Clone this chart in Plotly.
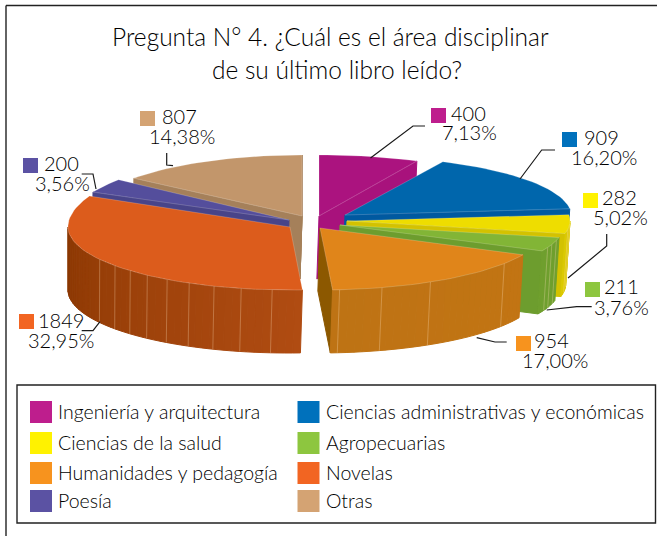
import math
import plotly.graph_objects as go

# ---- data -------------------------------------------------------------
categories = ["Ingeniería y arquitectura", "Ciencias administrativas y económicas",
              "Ciencias de la salud", "Agropecuarias", "Humanidades y pedagogía",
              "Novelas", "Poesía", "Otras"]
counts = [400, 909, 282, 211, 954, 1849, 200, 807]
percent_labels = ["7,13%", "16,20%", "5,02%", "3,76%", "17,00%", "32,95%", "3,56%", "14,38%"]
title_lines = ["Pregunta N° 4. ¿Cuál es el área disciplinar", "de su último libro leído?"]

# ---- style ------------------------------------------------------------
FONT = "Lato"
INK = "#000000"
top_colors = ["#AB137F", "#0066AC", "#EEDD00", "#82B536", "#E0851A", "#DC5C1C", "#544E9C", "#C2966B"]
cut_colors = ["#A8127C", "#0059A0", "#D3C200", "#6D9D2E", "#8C5800", "#8F3A03", "#484489", "#A5805A"]
wall_start = ["#A8127C", "#0059A0", "#DCCA00", "#6F9F2E", "#C27413", "#B04C12", "#484489", "#A5805A"]
wall_end = ["#A8127C", "#0059A0", "#DCCA00", "#6F9F2E", "#BE7314", "#8A3702", "#484489", "#A5805A"]
key_colors = ["#BE1E8D", "#0071BC", "#FFF200", "#8DC63F", "#F7931E", "#F26522", "#5B52A3", "#D4A373"]

# per-slice placement: apex x, apex y, radius, front half-height, back half-height
placement = [(319, 216, 226, 61, 61), (345, 215, 226, 60, 59), (347, 221, 223, 60, 60),
             (340, 225, 224, 60, 60), (320, 228, 225, 62, 62), (290, 227, 222, 63, 72),
             (289, 220, 217, 65, 65), (302, 216, 214, 61, 61)]
stripe_angles = [[], [], [93, 98], [105, 109, 112], [125, 150.6, 164, 175],
                 [184.6, 192.7, 200, 207, 213.6, 220, 226, 232, 239], [], []]
DEPTH = 63
paint_order = [0, 7, 6, 1, 2, 3, 5, 4]

total = sum(counts)
edges = [0.0]
for c in counts:
    edges.append(edges[-1] + 360.0 * c / total)


def lerp_color(a, b, t):
    pa = [int(a[i:i + 2], 16) for i in (1, 3, 5)]
    pb = [int(b[i:i + 2], 16) for i in (1, 3, 5)]
    return "rgb(%d,%d,%d)" % tuple(round(p + (q - p) * t) for p, q in zip(pa, pb))


def rim(i, deg):
    ax, ay, r, ry_f, ry_b = placement[i]
    s, c = math.sin(math.radians(deg)), math.cos(math.radians(deg))
    return ax + r * s, ay - (ry_b if c > 0 else ry_f) * c


def below(p, extra=0.0):
    return p[0] - (p[0] - 68) * 0.0085 + extra, p[1] + DEPTH


fig = go.Figure()


def poly(points, fill, line=None, width=1.0):
    xs = [p[0] for p in points] + [points[0][0]]
    ys = [p[1] for p in points] + [points[0][1]]
    fig.add_trace(go.Scatter(x=xs, y=ys, mode="lines", fill="toself", fillcolor=fill,
                             line=dict(color=line or fill, width=width),
                             hoverinfo="skip", showlegend=False))


def seg(points, color="#1a1a1a", width=1.2):
    fig.add_trace(go.Scatter(x=[p[0] for p in points], y=[p[1] for p in points], mode="lines",
                             line=dict(color=color, width=width), hoverinfo="skip", showlegend=False))


for i in paint_order:
    a1, a2 = edges[i], edges[i + 1]
    ax, ay = placement[i][0], placement[i][1]
    apex = (ax, ay)
    # radial cut faces that look towards the viewer
    for deg, vis in ((a1, math.sin(math.radians(a1)) < 0), (a2, math.sin(math.radians(a2)) > 0)):
        if vis:
            p = rim(i, deg)
            poly([apex, p, below(p), below(apex)], cut_colors[i])
    if i == 7:  # the sliver along the closing edge of the last slice
        p = rim(i, a2)
        poly([p, below(p, 2), below(apex), apex], cut_colors[i])
    # curved outer wall, front part only
    lo, hi = max(a1, 90.0), min(a2, 270.0)
    if lo < hi:
        n = max(1, int((hi - lo) / 2))
        for k in range(n):
            d1 = lo + (hi - lo) * k / n
            d2 = lo + (hi - lo) * (k + 1) / n
            p1, p2 = rim(i, d1), rim(i, d2)
            poly([p1, p2, below(p2), below(p1)],
                 lerp_color(wall_start[i], wall_end[i], (k + 0.5) / n))
        for d in stripe_angles[i]:
            p = rim(i, d)
            seg([p, below(p)], "rgba(255,225,190,0.38)", 0.8)
    # top face
    steps = max(2, int((a2 - a1) / 2))
    arc = [rim(i, a1 + (a2 - a1) * k / steps) for k in range(steps + 1)]
    poly([apex] + arc, top_colors[i], "rgba(255,255,255,0.28)", 0.7)

# leader lines
leaders = [[(370.5, 158), (413, 126), (425, 126)], [(520, 179), (541.7, 150), (555, 150)],
           [(568, 278), (606.7, 246), (606.7, 234)], [(546.7, 310), (576.7, 306.7), (591.7, 306.7)],
           [(476.7, 337.7), (495, 342), (506.7, 342)], [(100, 321.7), (93, 330.7), (81.7, 330.7)],
           [(96, 189), (93, 174), (81.7, 174)], [(166.7, 153), (166.7, 165), (173, 165.7)]]
for pts in leaders:
    seg(pts)

annotations = []


def text(x, y, s, size, anchor="left"):
    annotations.append(dict(x=x, y=y, xref="x", yref="y", text=s, showarrow=False, xanchor=anchor,
                            yanchor="middle", align=anchor,
                            font=dict(family=FONT, size=size, color=INK, weight=300),
                            borderpad=0, borderwidth=0))


shapes = []


def rect(x0, y0, x1, y1, fill=None, line=None, width=1.5):
    shapes.append(dict(type="rect", xref="x", yref="y", x0=x0, y0=y0, x1=x1, y1=y1,
                       fillcolor=fill or "rgba(0,0,0,0)",
                       line=dict(color=line or "rgba(0,0,0,0)", width=width if line else 0)))


# data labels: swatch left/top, number position, percent position
label_pos = [((431, 108), (451, 112.5), (442, 131.5)), ((562, 132), (584, 136.5), (571, 156.5)),
             ((583, 193), (602, 196.5), (593, 216.5)), ((585, 282), (604, 285.5), (594, 306.5)),
             ((516, 336), (534, 339.5), (522, 359.5)), ((19, 314), (38, 319.5), (28, 339.5)),
             ((23, 158), (44, 162.5), (35, 182.5)), ((140, 111), (162, 115.5), (149, 135.5))]
for i, (sw, num, pct) in enumerate(label_pos):
    rect(sw[0], sw[1], sw[0] + 15, sw[1] + 15, key_colors[i])
    text(num[0], num[1], str(counts[i]), 20)
    text(pct[0], pct[1], percent_labels[i], 20)

# titles
text(330, 36.5, title_lines[0], 24.5, "center")
text(337, 69.5, title_lines[1], 24.5, "center")

# legend
rect(17, 385, 655.5, 523, None, "#222222", 1.4)
rows = [401, 432, 462, 490]
cols = [(30, 58), (297.5, 326)]
for i, name in enumerate(categories):
    col, row = cols[i % 2], rows[i // 2]
    rect(col[0], row, col[0] + 22, row + 22, key_colors[i])
    text(col[1], row + 10, name, 19.5)

# page frame: top and left rules only
shapes.append(dict(type="line", xref="x", yref="y", x0=6, y0=5.5, x1=657, y1=5.5,
                   line=dict(color="#222222", width=1.4)))
shapes.append(dict(type="line", xref="x", yref="y", x0=6, y0=5.5, x1=6, y1=536,
                   line=dict(color="#222222", width=1.4)))

fig.update_layout(width=657, height=536, margin=dict(l=0, r=0, t=0, b=0),
                  paper_bgcolor="white", plot_bgcolor="white", showlegend=False,
                  xaxis=dict(range=[0, 657], visible=False, fixedrange=True),
                  yaxis=dict(range=[536, 0], visible=False, fixedrange=True),
                  annotations=annotations, shapes=shapes)
fig.write_html("out.html", config=dict(displayModeBar=False),
               post_script="document.body.style.margin='0';document.body.style.overflow='hidden';")
